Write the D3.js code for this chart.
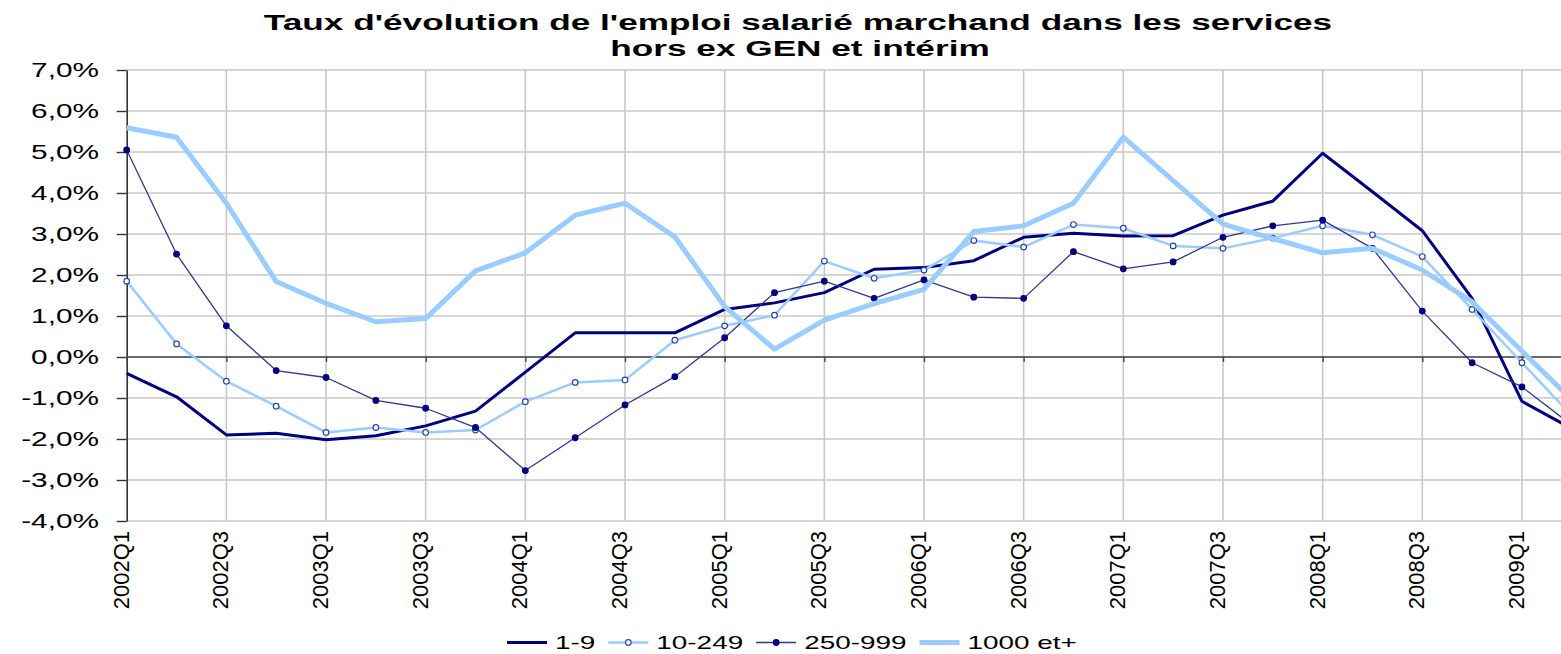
<!DOCTYPE html>
<html>
<head>
<meta charset="utf-8">
<script src="https://cdn.jsdelivr.net/npm/d3@7"></script>
<style>
  html, body { margin: 0; padding: 0; background: #fff; }
  svg { display: block; font-family: Arial, "Liberation Sans", sans-serif; }
</style>
</head>
<body>
<svg id="chart" width="1561" height="654"></svg>
<script>
// ---------- data ----------
const titleLines = ["Taux d'évolution de l'emploi salarié marchand dans les services", "hors ex GEN et intérim"];
const categories = ["2002Q1","2002Q2","2002Q3","2002Q4","2003Q1","2003Q2","2003Q3","2003Q4",
  "2004Q1","2004Q2","2004Q3","2004Q4","2005Q1","2005Q2","2005Q3","2005Q4",
  "2006Q1","2006Q2","2006Q3","2006Q4","2007Q1","2007Q2","2007Q3","2007Q4",
  "2008Q1","2008Q2","2008Q3","2008Q4","2009Q1","2009Q2"];
const xTickLabels = ["2002Q1","2002Q3","2003Q1","2003Q3","2004Q1","2004Q3","2005Q1","2005Q3",
  "2006Q1","2006Q3","2007Q1","2007Q3","2008Q1","2008Q3","2009Q1"];
const yTicks = [7,6,5,4,3,2,1,0,-1,-2,-3,-4];
const seriesNames = ["1-9","10-249","250-999","1000 et+"];
const s1_9     = [-0.40,-0.97,-1.90,-1.86,-2.02,-1.92,-1.68,-1.32,-0.37,0.59,0.59,0.59,1.16,1.32,1.57,2.14,2.18,2.35,2.92,3.02,2.95,2.96,3.46,3.80,4.97,4.03,3.08,1.43,-1.08,-1.75];
const s10_249  = [1.85,0.32,-0.59,-1.20,-1.84,-1.72,-1.84,-1.78,-1.09,-0.62,-0.56,0.41,0.76,1.02,2.34,1.92,2.12,2.84,2.68,3.23,3.14,2.71,2.65,2.90,3.20,2.98,2.45,1.16,-0.14,-1.43];
const s250_999 = [5.05,2.51,0.76,-0.33,-0.50,-1.06,-1.25,-1.72,-2.77,-1.97,-1.17,-0.48,0.47,1.57,1.85,1.43,1.88,1.46,1.43,2.57,2.15,2.32,2.92,3.20,3.34,2.65,1.12,-0.14,-0.73,-1.66];
const s1000    = [5.59,5.36,3.75,1.84,1.31,0.86,0.94,2.10,2.54,3.46,3.75,2.93,1.23,0.19,0.90,1.30,1.65,3.06,3.20,3.75,5.36,4.30,3.24,2.89,2.54,2.65,2.12,1.35,0.14,-1.04];

// ---------- styles ----------
const styles = [
  {name: seriesNames[0], values: s1_9,     color: "#000080", width: 3,   marker: null},
  {name: seriesNames[1], values: s10_249,  color: "#99ccff", width: 2.5, marker: "open"},
  {name: seriesNames[2], values: s250_999, color: "#333399", width: 1.3, marker: "filled"},
  {name: seriesNames[3], values: s1000,    color: "#99ccff", width: 5,   marker: null}
];

const svg = d3.select("#chart");
const W = 1561, H = 654;
const plotLeft = 126.7, plotTop = 70, plotBottom = 521;
const step = 49.83;
const plotRight = plotLeft + step * (categories.length - 1);

const x = d3.scalePoint().domain(categories).range([plotLeft, plotRight]).padding(0);
const y = d3.scaleLinear().domain([-4, 7]).range([plotBottom, plotTop]);

const fmt = v => d3.format(".1f")(v).replace(".", ",").replace("−", "-") + "%";

// ---------- gridlines ----------
const grid = svg.append("g");
grid.selectAll("line.h").data(yTicks).join("line")
  .attr("x1", plotLeft).attr("x2", W).attr("y1", d => y(d)).attr("y2", d => y(d))
  .attr("stroke", "#c8c8c8").attr("stroke-width", 1.6);
grid.selectAll("line.v").data(xTickLabels.slice(1)).join("line")
  .attr("x1", d => x(d)).attr("x2", d => x(d)).attr("y1", plotTop).attr("y2", plotBottom)
  .attr("stroke", "#c8c8c8").attr("stroke-width", 1.6);

// ---------- axes ----------
const yAxis = d3.axisLeft(y).tickValues(yTicks).tickSize(10).tickSizeOuter(0).tickFormat("");
svg.append("g").attr("transform", `translate(${plotLeft},0)`).call(yAxis)
  .call(g => g.select(".domain").attr("stroke", "#333").attr("stroke-width", 1.6))
  .call(g => g.selectAll(".tick line").attr("stroke", "#333").attr("stroke-width", 1.4));

const xAxis = d3.axisBottom(x).tickValues(xTickLabels).tickSize(5).tickSizeOuter(0).tickFormat("");
svg.append("g").attr("transform", `translate(0,${y(0)})`).call(xAxis)
  .call(g => g.select(".domain").attr("stroke", "#444").attr("stroke-width", 1.6).attr("d", `M${plotLeft},0H${W}`))
  .call(g => g.selectAll(".tick line").attr("stroke", "#444").attr("stroke-width", 1.4));

// y tick labels (stretched horizontally like the original)
const yl = svg.append("g");
yl.selectAll("g").data(yTicks).join("g")
  .attr("transform", d => `translate(99,${y(d) + 7})`)
  .append("text")
  .attr("transform", "scale(1.42,1)")
  .attr("text-anchor", "end")
  .attr("font-size", 21)
  .attr("fill", "#000")
  .text(d => fmt(d));

// x tick labels (rotated)
svg.append("g").selectAll("text").data(xTickLabels).join("text")
  .attr("transform", d => `translate(${x(d) + 2},531) rotate(-90)`)
  .attr("text-anchor", "end")
  .attr("font-size", 22)
  .attr("fill", "#000")
  .text(d => d);

// ---------- lines ----------
const line = d3.line().x((d, i) => x(categories[i])).y(d => y(d));
styles.forEach(s => {
  const g = svg.append("g");
  g.append("path").datum(s.values)
    .attr("d", line).attr("fill", "none")
    .attr("stroke", s.color).attr("stroke-width", s.width)
    .attr("stroke-linejoin", "round");
  if (s.marker) {
    g.selectAll("circle").data(s.values).join("circle")
      .attr("cx", (d, i) => x(categories[i])).attr("cy", d => y(d))
      .attr("r", 2.8)
      .attr("fill", s.marker === "open" ? "#fff" : "#000080")
      .attr("stroke", s.marker === "open" ? "#2a3fb8" : "#000080")
      .attr("stroke-width", 1.2);
  }
});

// ---------- title ----------
const tg = svg.append("g");
[[titleLines[0], 798, 30], [titleLines[1], 800, 56]].forEach(([t, cx, by]) => {
  tg.append("g").attr("transform", `translate(${cx},${by})`)
    .append("text").attr("transform", "scale(1.6,1)")
    .attr("text-anchor", "middle").attr("font-size", 22).attr("font-weight", "bold")
    .attr("fill", "#000").text(t);
});

// ---------- legend ----------
const lg = svg.append("g");
let lx = 507;
const ly = 642.5;
styles.forEach(s => {
  lg.append("line").attr("x1", lx).attr("x2", lx + 40).attr("y1", ly).attr("y2", ly)
    .attr("stroke", s.color).attr("stroke-width", s.width);
  if (s.marker) {
    lg.append("circle").attr("cx", lx + 20).attr("cy", ly).attr("r", 2.8)
      .attr("fill", s.marker === "open" ? "#fff" : "#000080")
      .attr("stroke", s.marker === "open" ? "#2a3fb8" : "#000080").attr("stroke-width", 1.2);
  }
  const tgi = lg.append("g").attr("transform", `translate(${lx + 48},${ly + 6})`);
  const txt = tgi.append("text").attr("transform", "scale(1.55,1)")
    .attr("font-size", 18).attr("fill", "#000").text(s.name);
  const w = txt.node().getComputedTextLength() * 1.55;
  lx += 48 + w + 13;
});
</script>
</body>
</html>
